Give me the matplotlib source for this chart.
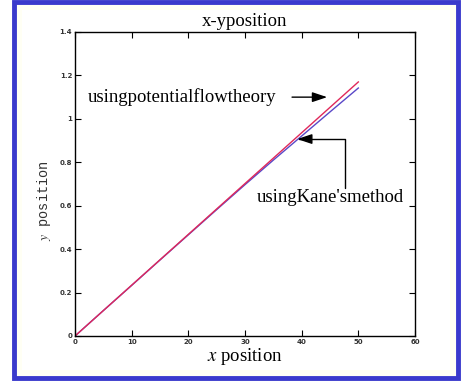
import matplotlib
matplotlib.use("Agg")
import matplotlib.pyplot as plt
from matplotlib.patches import Rectangle

# values
x_pos = [0, 5, 10, 15, 20, 25, 30, 35, 40, 45, 50]
y_potential = [0, 0.117, 0.234, 0.351, 0.468, 0.585, 0.702, 0.819, 0.936, 1.053, 1.170]
y_kane = [0, 0.117, 0.233, 0.350, 0.466, 0.582, 0.697, 0.810, 0.921, 1.032, 1.142]

x_ticks = [0, 10, 20, 30, 40, 50, 60]
y_ticks = [0, 0.2, 0.4, 0.6, 0.8, 1, 1.2, 1.4]

plt.rcParams["font.family"] = "Liberation Serif"
plt.rcParams["mathtext.fontset"] = "stix"

fig = plt.figure(figsize=(4.64, 3.85), dpi=100)
W, H = 464, 385

# blue frame round the figure, kept behind the axes
fig.patches.append(Rectangle((14 / W, 7 / H), 444 / W, 376 / H, transform=fig.transFigure,
                             facecolor="#fffff4", edgecolor="#3a3acc", linewidth=3.5, zorder=-2))
fig.patches.append(Rectangle((22 / W, 15 / H), 428 / W, 360 / H, transform=fig.transFigure,
                             facecolor="white", edgecolor="none", zorder=-1))

ax = fig.add_axes([75 / W, 49 / H, 340 / W, 304 / H])
ax.plot(x_pos, y_kane, color="#5a48c8", linewidth=1.0)
ax.plot(x_pos, y_potential, color="#e0285a", linewidth=1.0)

ax.set_xlim(0, 60)
ax.set_ylim(0, 1.4)
ax.set_xticks(x_ticks)
ax.set_yticks(y_ticks)
ax.set_xticklabels([str(v) for v in x_ticks], family="DejaVu Sans", weight="bold")
ax.set_yticklabels(["0", "0.2", "0.4", "0.6", "0.8", "1", "1.2", "1.4"],
                   family="DejaVu Sans", weight="bold")
ax.tick_params(direction="in", top=True, right=True, length=4, width=0.8,
               labelsize=5, pad=2, labelcolor="#333333")
for s in ax.spines.values():
    s.set_linewidth(1.0)

ax.set_title("x-yposition", fontsize=13.5, pad=4)
ax.set_xlabel("$x$ position", fontsize=13.5, labelpad=1)
ax.set_ylabel("$y$ position", fontsize=9.8, family="Liberation Mono", color="#333333")
ax.yaxis.set_label_coords(-0.065, 0.447)

ax.text(2.3, 1.10, "usingpotentialflowtheory", fontsize=13.5, va="center", ha="left")
ax.annotate("", xy=(44.5, 1.10), xytext=(38.3, 1.10),
            arrowprops=dict(arrowstyle="-|>,head_length=0.9,head_width=0.3",
                            color="black", lw=1.0, shrinkA=0, shrinkB=0))

ax.text(32.1, 0.64, "usingKane'smethod", fontsize=13.5, va="center", ha="left")
ax.annotate("", xy=(39.2, 0.907), xytext=(47.6, 0.682),
            arrowprops=dict(arrowstyle="-|>,head_length=0.9,head_width=0.3",
                            connectionstyle="angle,angleA=90,angleB=0,rad=0",
                            color="black", lw=1.0, shrinkA=0, shrinkB=0))

fig.savefig("out.png", dpi=100)
